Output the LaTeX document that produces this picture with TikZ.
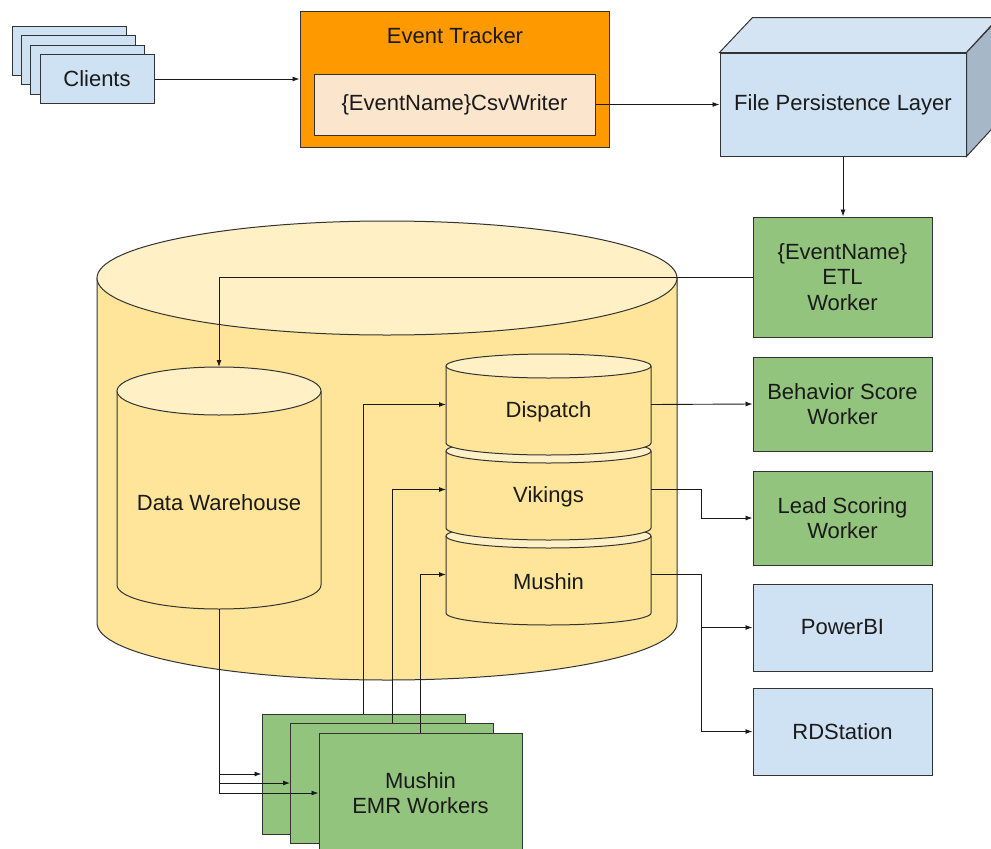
\documentclass[tikz,border=0pt]{standalone}
\usepackage{fontspec}
\setmainfont{Liberation Sans}
\usetikzlibrary{arrows.meta,calc}
\definecolor{lblue}{HTML}{CFE2F3}
\definecolor{orng}{HTML}{FF9900}
\definecolor{peach}{HTML}{FCE5CD}
\definecolor{grn}{HTML}{93C47D}
\definecolor{cyl}{HTML}{FFE599}
\definecolor{cyltop}{HTML}{FFF0C6}
\definecolor{bord}{HTML}{333333}
\definecolor{sideblue}{HTML}{A6B7C8}
\definecolor{topblue}{HTML}{D4E4F3}
\definecolor{ink}{HTML}{1A1A1A}
\newcommand\drawcyl[5]{% cx, top center y, bottom center y, rx, ry
  \fill[cyl] (#1-#4,#2) -- (#1-#4,#3) arc[start angle=180,end angle=360,x radius=#4pt,y radius=#5pt] -- (#1+#4,#2) -- cycle;
  \draw[bord,line width=1pt] (#1-#4,#2) -- (#1-#4,#3) arc[start angle=180,end angle=360,x radius=#4pt,y radius=#5pt] -- (#1+#4,#2);
  \draw[bord,fill=cyltop,line width=1pt] (#1,#2) ellipse[x radius=#4pt,y radius=#5pt];}
\begin{document}
\begin{tikzpicture}[x=1pt,y=-1pt,
  font=\fontsize{22}{25.5}\selectfont, text=ink,
  boxbase/.style={draw=bord, line width=1pt, inner sep=0pt, align=center},
  clientbox/.style={boxbase, fill=lblue, minimum width=114pt, minimum height=49pt},
  worker/.style={boxbase, fill=grn, minimum width=179pt},
  outbox/.style={boxbase, fill=lblue, minimum width=179pt, minimum height=87pt},
  emr/.style={boxbase, fill=grn, minimum width=203pt, minimum height=120pt},
  hold/.style={inner sep=0pt, outer sep=0pt},
  txt/.style={inner sep=0pt, align=center},
  conn/.style={draw=ink, line width=0.9pt, -{Latex[length=7pt,width=5pt]}},
  plain/.style={draw=ink, line width=0.9pt}]
\clip (0,0) rectangle (991,849);

% Clients stack
\node[clientbox] (c1) at (69,51) {};
\node[clientbox] (c2) at (78.3,60.3) {};
\node[clientbox] (c3) at (87.7,69.7) {};
\node[clientbox] (c4) at (97,79) {Clients};

% Event tracker
\node[boxbase, fill=orng, minimum width=309pt, minimum height=136pt] (tracker) at (454.5,79) {};
\node[txt] (ettitle) at (455,35.5) {Event Tracker};
\node[boxbase, fill=peach, minimum width=281pt, minimum height=61pt] (csv) at (454.5,104.5) {\{EventName\}CsvWriter};

% File persistence layer (3D box)
\node[boxbase, fill=lblue, minimum width=246pt, minimum height=103pt] (fpl) at (843,104.5) {File Persistence Layer};
\draw[bord, line width=1pt, fill=topblue] (fpl.north west) -- ++(33,-35) -- ++(246,0) -- (fpl.north east) -- cycle;
\draw[bord, line width=1pt, fill=sideblue] (fpl.north east) -- ++(33,-35) -- ++(0,103) -- (fpl.south east) -- cycle;

% Big cylinder
\drawcyl{387}{278}{623}{290}{57}

% Data warehouse cylinder
\drawcyl{219}{391}{585}{102}{24}
\node[hold, minimum width=204pt, minimum height=242pt] (dw) at (219,488) {};
\node[txt] (dwlbl) at (219,502.5) {Data Warehouse};

% Small stacked cylinders
\drawcyl{548.5}{536}{613}{102.5}{12}
\drawcyl{548.5}{451}{528}{102.5}{12}
\drawcyl{548.5}{366}{443}{102.5}{12}
\node[hold, minimum width=205pt, minimum height=101pt] (disp) at (548.5,404.5) {};
\node[hold, minimum width=205pt, minimum height=101pt] (vik) at (548.5,489.5) {};
\node[hold, minimum width=205pt, minimum height=101pt] (mush) at (548.5,574.5) {};
\node[txt] (displbl) at (548.5,411.5) {Dispatch};
\node[txt] (viklbl) at (548.5,496.5) {Vikings};
\node[txt] (mushlbl) at (548.5,581.5) {Mushin};

% EMR workers
\node[emr] (e1) at (363.5,774) {};
\node[emr] (e2) at (392,783) {};
\node[emr] (e3) at (420.5,793) {Mushin\\EMR Workers};

% Right column
\node[worker, minimum height=120pt] (etl) at (842.5,277) {\{EventName\}\\ETL\\Worker};
\node[worker, minimum height=94pt] (beh) at (842.5,404) {Behavior Score\\Worker};
\node[worker, minimum height=94pt] (lead) at (842.5,518) {Lead Scoring\\Worker};
\node[outbox] (pbi) at (842.5,627.5) {PowerBI};
\node[outbox] (rds) at (842.5,731.5) {RDStation};

% Connectors
\draw[conn] (c4.east) -- (tracker.west);
\draw[conn] (csv.east) -- (fpl.west);
\draw[conn] (fpl.south) -- (fpl.south |- etl.north);
\draw[conn] (etl.west) -| (dw.north);
\draw[conn] (dw.south) |- (e1.west);
\draw[conn] (dw.south) |- (e2.west);
\draw[conn] (dw.south) |- (e3.west);
\draw[conn] (e1.north) |- (disp.west);
\draw[conn] (e2.north) |- (vik.west);
\draw[conn] (e3.north) |- (mush.west);
\draw[conn] (disp.east) -- (beh.west);
\draw[conn] (vik.east) -- ++(50,0) |- (lead.west);
\draw[conn] (mush.east) -- ++(50,0) |- (pbi.west);
\draw[conn] (mush.east) -- ++(50,0) |- (rds.west);
\end{tikzpicture}
\end{document}
